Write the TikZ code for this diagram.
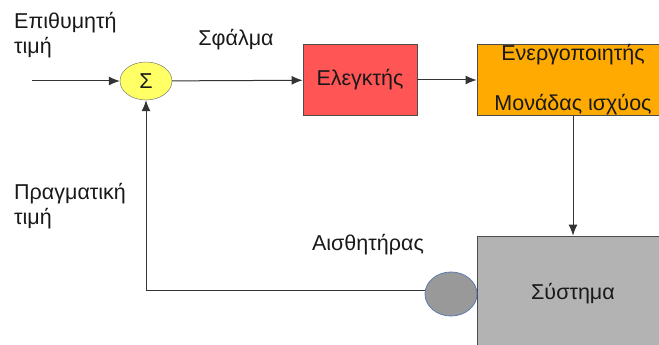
\documentclass[tikz,border=0pt]{standalone}
\usepackage{fontspec}
\setmainfont{Liberation Sans}
\usetikzlibrary{arrows.meta,shapes.geometric,positioning}

\definecolor{sumfill}{HTML}{FFFF66}
\definecolor{ctrlfill}{HTML}{FF5555}
\definecolor{actfill}{HTML}{FFAA00}
\definecolor{sysfill}{HTML}{B3B3B3}
\definecolor{sensfill}{HTML}{999999}
\definecolor{sensline}{HTML}{5B7BB0}
\definecolor{wire}{HTML}{333333}

\tikzset{
  every node/.style={font=\fontsize{21.5}{25}\selectfont, text=black!90},
  sig/.style={draw=wire, line width=1pt, -{Latex[length=11pt,width=9pt]}},
  block/.style={draw=black!70, line width=0.8pt, rectangle, inner sep=0pt},
  sumnode/.style={draw=black!60, fill=sumfill, ellipse, inner sep=0pt,
                  minimum width=52pt, minimum height=38pt},
  sensnode/.style={draw=sensline, fill=sensfill, ellipse, inner sep=0pt,
                   line width=0.8pt, minimum width=52pt, minimum height=44pt},
  lbl/.style={align=left, inner sep=0pt}
}

\begin{document}
\begin{tikzpicture}[x=1pt, y=-1pt]
  \useasboundingbox (0,0) rectangle (659,345);

  \node[sumnode] (sum) at (146,81) {Σ};
  \node[block, fill=ctrlfill, minimum width=114pt, minimum height=71pt] (ctrl) at (360,80) {Ελεγκτής};
  \node[block, fill=actfill, minimum width=192pt, minimum height=71pt, align=center] (act) at (573,80)
       {Ενεργοποιητής\\[25pt]Μονάδας ισχύος};
  \node[block, fill=sysfill, minimum width=192pt, minimum height=116pt] (sys) at (573,294) {Σύστημα};
  \node[sensnode] (sens) at (451,294) {};

  \coordinate (in) at (32,81);
  \coordinate (corner) at (146,290);

  \node[lbl, anchor=west] (ref) at (14,35) {Επιθυμητή\\τιμή};
  \node[lbl, anchor=west] (meas) at (14,206) {Πραγματική\\τιμή};
  \node (err) at (236,40) {Σφάλμα};
  \node (senslbl) at (368,245) {Αισθητήρας};

  \draw[sig] (in) -- (sum);
  \draw[sig] (sum) -- (ctrl);
  \draw[sig] (ctrl) -- (act);
  \draw[sig] (act.south) -- (sys.north);
  \draw[sig] (sens.west |- corner) -- (corner) -- (sum.south);
\end{tikzpicture}
\end{document}
